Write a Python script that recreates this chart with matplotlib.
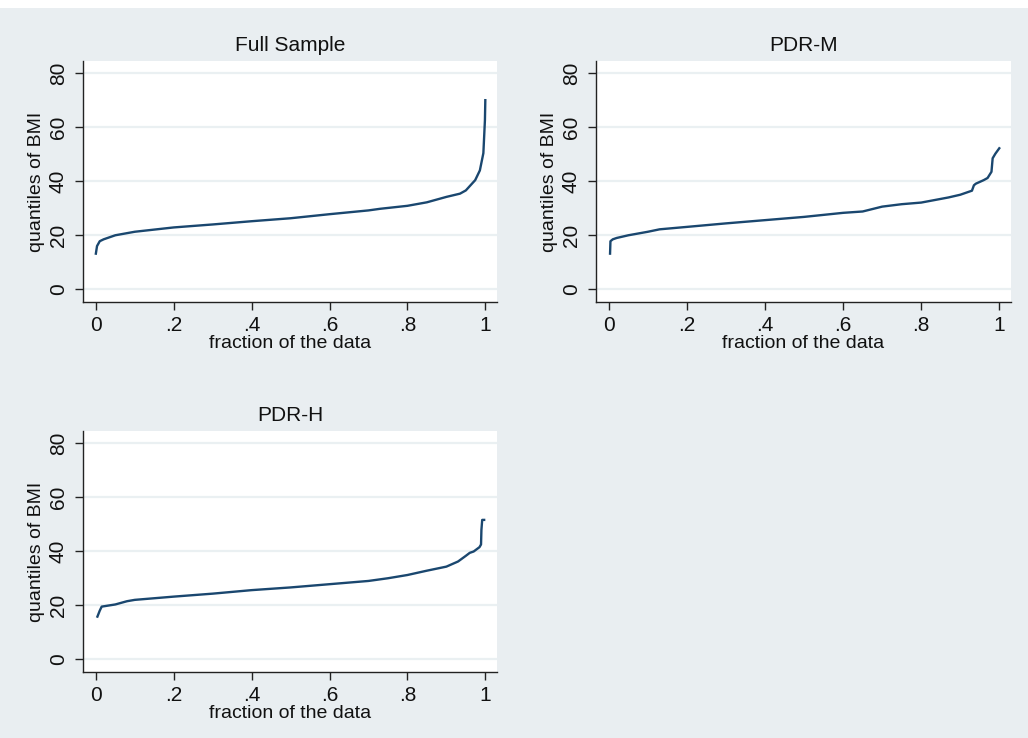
import numpy as np
import matplotlib
matplotlib.use("Agg")
import matplotlib.pyplot as plt
from matplotlib.patches import Rectangle
from matplotlib.ticker import FuncFormatter

plt.rcParams['font.family'] = ['Liberation Sans', 'DejaVu Sans']

# quantile curves (fraction of data, BMI)
full_x = [0.0, 0.003, 0.01, 0.02, 0.05, 0.1, 0.2, 0.3, 0.4, 0.5, 0.6, 0.7, 0.73,
          0.8, 0.85, 0.9, 0.935, 0.95, 0.974, 0.986, 0.995, 0.999, 1.0]
full_y = [13.2, 16.0, 17.8, 18.5, 20.0, 21.3, 22.9, 24.0, 25.2, 26.3, 27.8, 29.2, 29.8,
          30.9, 32.2, 34.2, 35.4, 36.6, 40.4, 44.0, 50.4, 62.6, 70.0]

pdrm_x = [0.003, 0.004, 0.01, 0.02, 0.05, 0.1, 0.13, 0.2, 0.3, 0.4, 0.5, 0.6, 0.65,
          0.7, 0.75, 0.8, 0.87, 0.9, 0.93, 0.935, 0.94, 0.96, 0.97, 0.98, 0.983, 0.99, 1.0]
pdrm_y = [13.2, 17.8, 18.5, 19.0, 20.0, 21.3, 22.2, 23.1, 24.4, 25.6, 26.8, 28.3, 28.8,
          30.6, 31.5, 32.1, 34.0, 35.0, 36.5, 38.5, 39.1, 40.4, 41.2, 43.5, 48.5, 50.2, 52.2]

pdrh_x = [0.004, 0.01, 0.015, 0.05, 0.08, 0.1, 0.2, 0.3, 0.4, 0.5, 0.6, 0.7, 0.75,
          0.8, 0.85, 0.9, 0.93, 0.95, 0.96, 0.97, 0.985, 0.989, 0.99, 0.992, 0.997]
pdrh_y = [15.8, 18.0, 19.5, 20.3, 21.5, 22.0, 23.2, 24.3, 25.6, 26.6, 27.8, 29.0, 30.0,
          31.2, 32.8, 34.3, 36.2, 38.3, 39.4, 39.9, 41.5, 42.5, 47.9, 51.6, 51.6]

titles = ["Full Sample", "PDR-M", "PDR-H"]
yticks = [0, 20, 40, 60, 80]
xticks = [0, 0.2, 0.4, 0.6, 0.8, 1.0]

W, H = 1028, 738
bg = "#e9eef1"
navy = "#1a476f"

fig = plt.figure(figsize=(W / 100, H / 100), dpi=100)
fig.patch.set_facecolor("white")
fig.patches.append(Rectangle((0, 0), 1, (H - 8) / H, transform=fig.transFigure,
                             facecolor=bg, edgecolor="none", zorder=-10))

# axes boxes in pixels: left, top, right, bottom
boxes = [(83, 61, 497, 302), (596, 61, 1011, 302), (83, 431, 497, 672)]
series = [(full_x, full_y), (pdrm_x, pdrm_y), (pdrh_x, pdrh_y)]

def fmt(v, pos):
    if abs(v) < 1e-9:
        return "0"
    if abs(v - 1) < 1e-9:
        return "1"
    return ("%.1f" % v).lstrip("0")

for (l, t, r, b), (xs, ys), title in zip(boxes, series, titles):
    ax = fig.add_axes([l / W, (H - b) / H, (r - l) / W, (b - t) / H])
    ax.set_facecolor("white")
    ax.plot(xs, ys, color=navy, lw=1.7, zorder=3)
    ax.set_xlim(-0.033, 1.03)
    ax.set_ylim(-4.7, 84.5)
    ax.set_yticks(yticks)
    ax.set_xticks(xticks)
    ax.xaxis.set_major_formatter(FuncFormatter(fmt))
    ax.grid(axis="y", color="#eaf0f2", lw=1.6, zorder=0)
    ax.set_axisbelow(True)
    for s in ["top", "right"]:
        ax.spines[s].set_visible(False)
    for s in ["left", "bottom"]:
        ax.spines[s].set_color("#222222")
        ax.spines[s].set_linewidth(1.0)
    ax.tick_params(axis="both", direction="out", length=6, width=1.0,
                   colors="#222222", labelsize=15, labelcolor="#111111")
    ax.tick_params(axis="y", pad=5)
    ax.tick_params(axis="x", pad=4)
    for lab in ax.get_yticklabels():
        lab.set_rotation(90)
        lab.set_va("center")
    ax.set_xlabel("fraction of the data", fontsize=14, labelpad=0, color="#111111")
    ax.set_ylabel("quantiles of BMI", fontsize=14, labelpad=3, color="#111111")
    ax.set_title(title, fontsize=15, pad=7, color="#111111")

fig.savefig("out.png", dpi=100, facecolor=fig.get_facecolor())
